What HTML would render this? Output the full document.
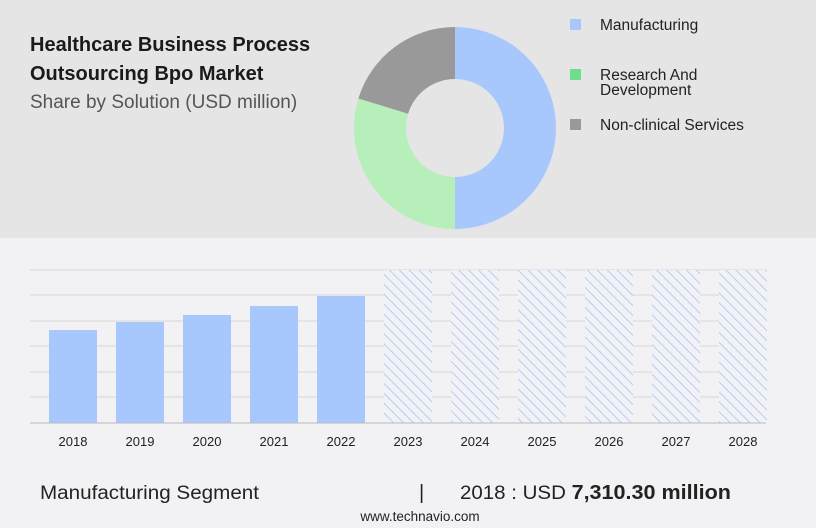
<!DOCTYPE html>
<html><head><meta charset="utf-8"><style>
body{margin:0;width:816px;height:528px;background:#f2f2f4;font-family:"Liberation Sans",sans-serif;position:relative;overflow:hidden}
.top{position:absolute;left:0;top:0;width:816px;height:238px;background:#e5e5e5}
.t{position:absolute;color:#222}
</style></head><body>
<div class="top"></div>
<div class="t" style="left:30px;top:31px;font-size:20px;font-weight:bold;line-height:29px;color:#1a1a1a">Healthcare Business Process<br>Outsourcing Bpo Market</div>
<div class="t" style="left:30px;top:92px;font-size:19px;color:#555">Share by Solution (USD million)</div>
<svg style="position:absolute;left:0;top:0" width="816" height="528">
<path d="M455,27 A101,101 0 0 1 455,229 L455,177 A49,49 0 0 0 455,79 Z" fill="#a8c8fd"/>
<path d="M455,229 A101,101 0 0 1 358.4,98.5 L408.1,113.7 A49,49 0 0 0 455,177 Z" fill="#b6efb9"/>
<path d="M358.4,98.5 A101,101 0 0 1 455,27 L455,79 A49,49 0 0 0 408.1,113.7 Z" fill="#999"/>
<rect x="570" y="19" width="11" height="11" fill="#a8c8fd"/>
<rect x="570" y="69" width="11" height="11" fill="#6fde8c"/>
<rect x="570" y="119" width="11" height="11" fill="#999"/>
<g font-size="15.5" fill="#222">
<text x="600" y="30">Manufacturing</text>
<text x="600" y="80">Research And</text>
<text x="600" y="95">Development</text>
<text x="600" y="130">Non-clinical Services</text>
</g>
<defs><pattern id="h" width="7" height="7" patternUnits="userSpaceOnUse" patternTransform="rotate(-45)"><line x1="0" y1="0" x2="0" y2="7" stroke="#9fc0fb" stroke-width="1.5"/></pattern></defs>
<g stroke="#d6d6da" stroke-width="1">
<line x1="30" y1="270" x2="766" y2="270"/><line x1="30" y1="295" x2="766" y2="295"/><line x1="30" y1="321" x2="766" y2="321"/><line x1="30" y1="346" x2="766" y2="346"/><line x1="30" y1="372" x2="766" y2="372"/><line x1="30" y1="397" x2="766" y2="397"/>
</g>
<g fill="#a8c8fd">
<rect x="49" y="330" width="48" height="93"/><rect x="116" y="322" width="48" height="101"/><rect x="183" y="315" width="48" height="108"/><rect x="250" y="306" width="48" height="117"/><rect x="317" y="296" width="48" height="127"/>
</g>
<g fill="#f2f2f4">
<rect x="384" y="270" width="48" height="153"/><rect x="451" y="270" width="48" height="153"/><rect x="518" y="270" width="48" height="153"/><rect x="585" y="270" width="48" height="153"/><rect x="652" y="270" width="48" height="153"/><rect x="719" y="270" width="48" height="153"/>
</g>
<g fill="url(#h)">
<rect x="384" y="270" width="48" height="153"/><rect x="451" y="270" width="48" height="153"/><rect x="518" y="270" width="48" height="153"/><rect x="585" y="270" width="48" height="153"/><rect x="652" y="270" width="48" height="153"/><rect x="719" y="270" width="48" height="153"/>
</g>
<line x1="30" y1="423" x2="766" y2="423" stroke="#bbb"/>
<g font-size="13" fill="#222" text-anchor="middle">
<text x="73" y="446">2018</text><text x="140" y="446">2019</text><text x="207" y="446">2020</text><text x="274" y="446">2021</text><text x="341" y="446">2022</text><text x="408" y="446">2023</text><text x="475" y="446">2024</text><text x="542" y="446">2025</text><text x="609" y="446">2026</text><text x="676" y="446">2027</text><text x="743" y="446">2028</text>
</g>
<text x="40" y="499" font-size="19" fill="#222" textLength="219" lengthAdjust="spacingAndGlyphs">Manufacturing Segment</text>
<text x="419" y="499" font-size="20" fill="#222">|</text>
<text x="460" y="499" font-size="19" fill="#222" textLength="271" lengthAdjust="spacingAndGlyphs">2018 : USD <tspan font-weight="bold" font-size="20">7,310.30 million</tspan></text>
<text x="420" y="521" font-size="13.5" fill="#222" text-anchor="middle">www.technavio.com</text>
</svg>
</body></html>
